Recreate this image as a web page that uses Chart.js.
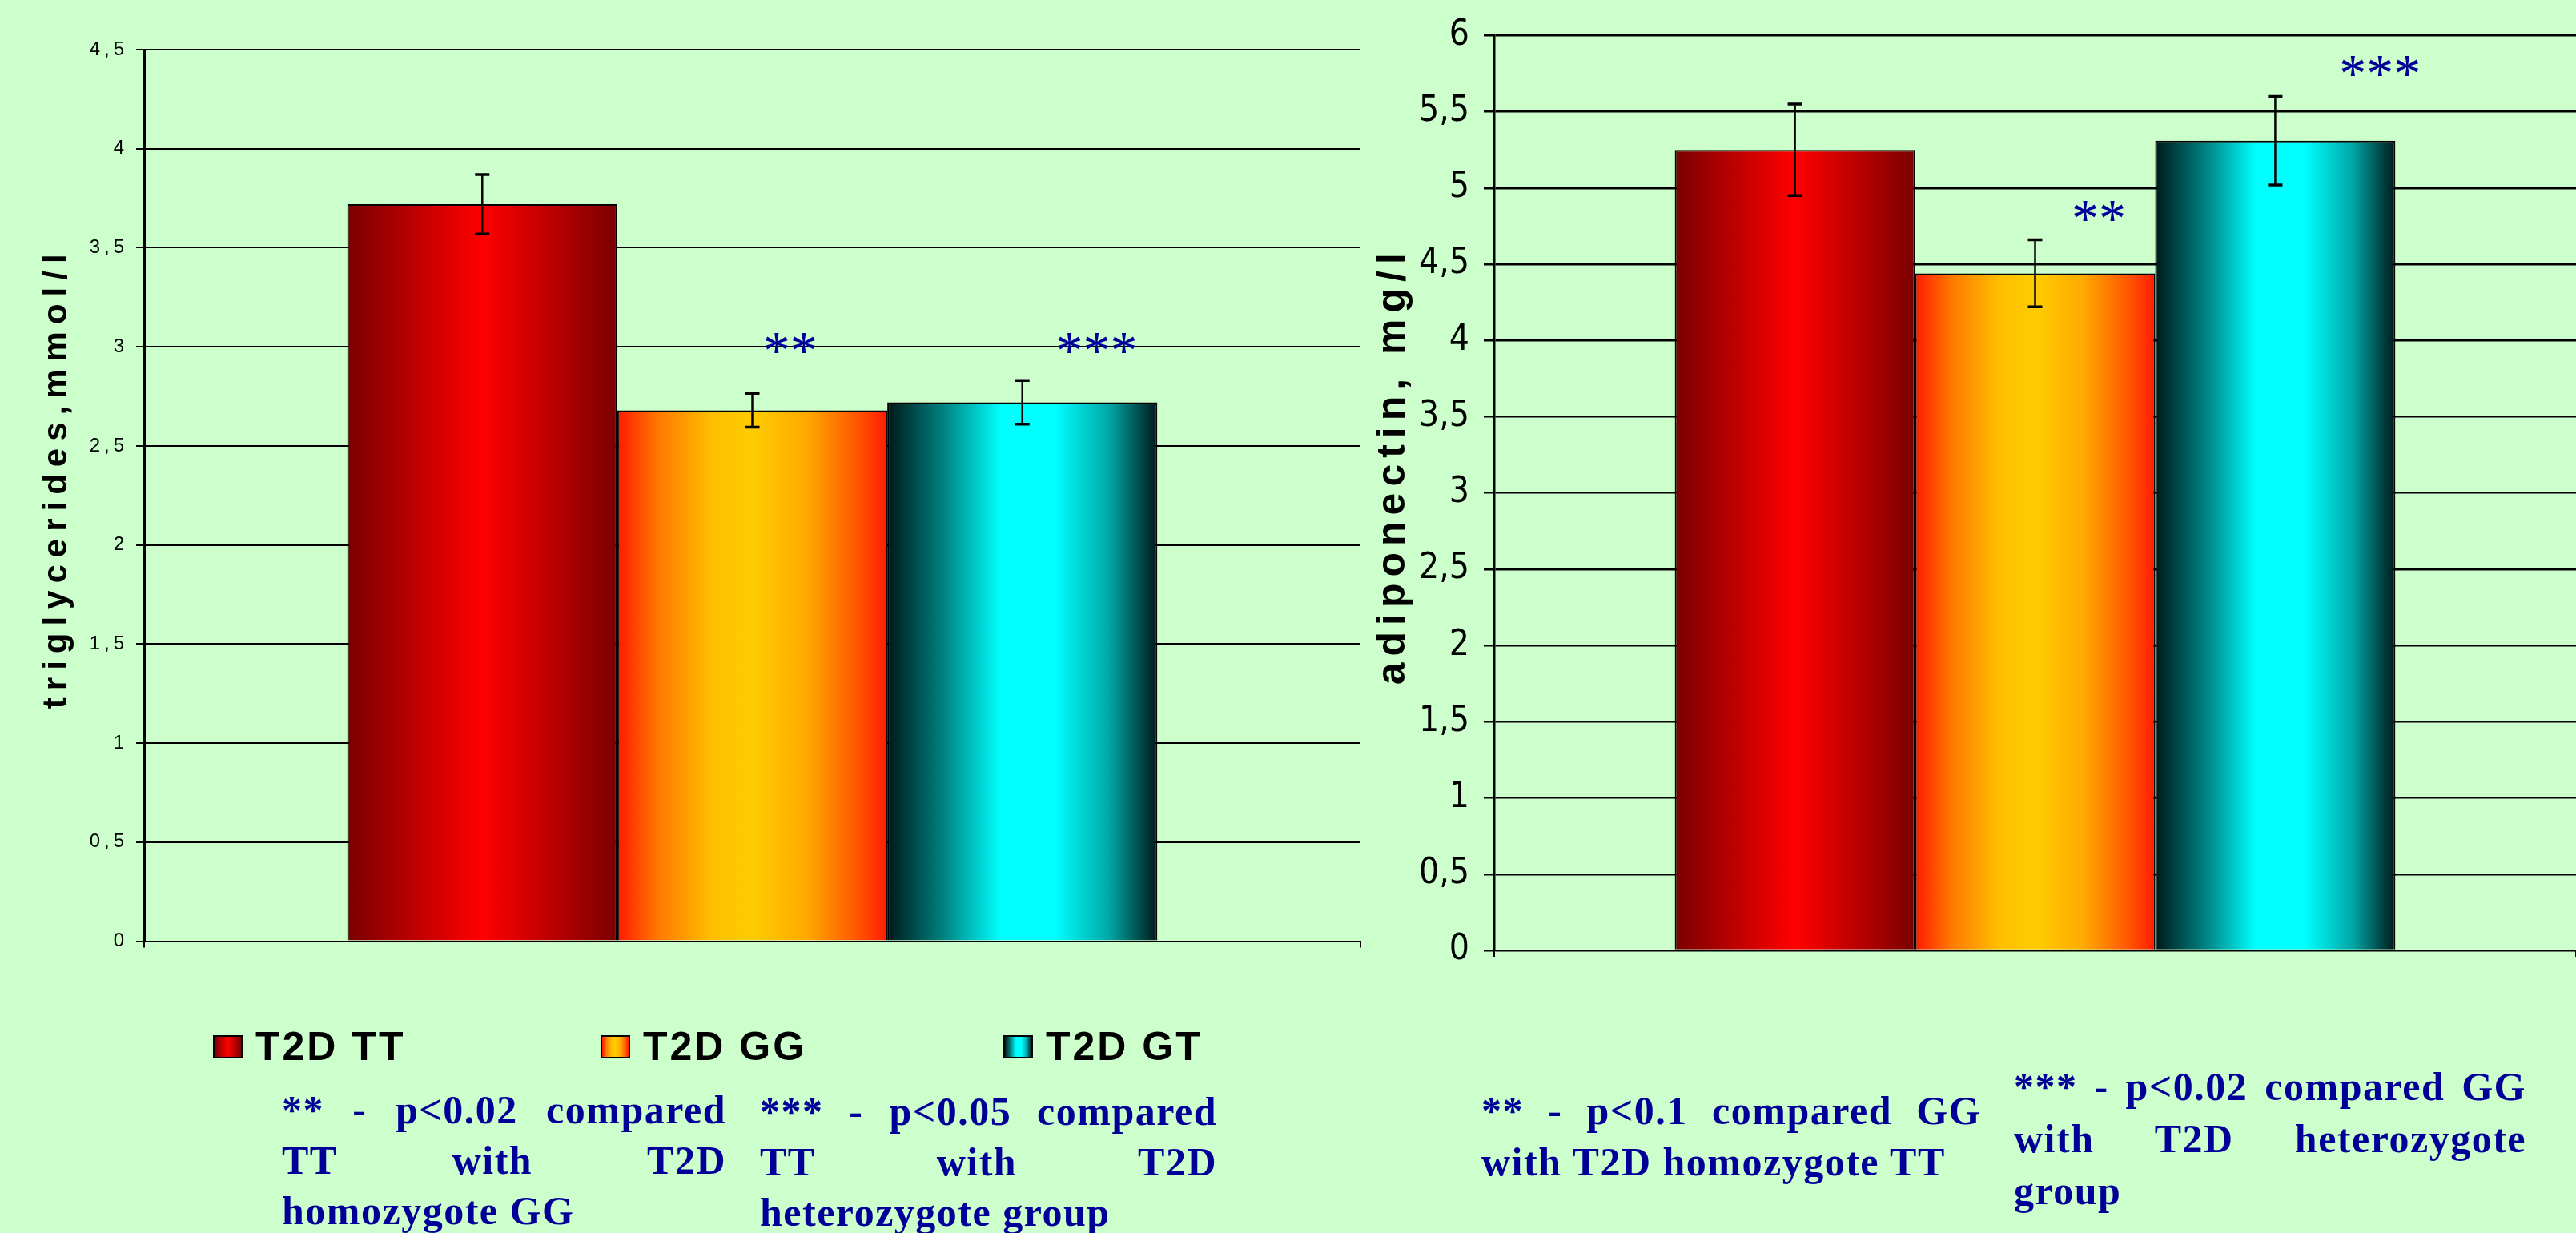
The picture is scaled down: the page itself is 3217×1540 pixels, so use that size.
<!DOCTYPE html>
<html>
<head>
<meta charset="utf-8">
<script src="https://cdn.jsdelivr.net/npm/chart.js@4.4.1/dist/chart.umd.min.js"></script>
<style>
  html, body { margin: 0; padding: 0; background: #ccffcc; width: 3217px; height: 1540px; overflow: hidden; }
  #trigChart { position: absolute; left: 0; top: 0; }
  #adipoChart { position: absolute; left: 1700px; top: 0; }
  .legend-item { position: absolute; top: 1278px; display: flex; align-items: center; line-height: 56px;
    font: bold 50px "Liberation Sans", Arial, sans-serif; letter-spacing: 3px; color: #000; white-space: nowrap; }
  .swatch { width: 33px; height: 25px; border: 2px solid #000; margin-right: 16px; }
  .note { position: absolute; color: #000099; font: bold 50px "Liberation Serif", "Times New Roman", serif;
    letter-spacing: 1.5px; line-height: 63px; }
  .note .j { text-align: justify; text-align-last: justify; }
</style>
</head>
<body>
<canvas id="trigChart" width="1700" height="1200"></canvas>
<canvas id="adipoChart" width="1517" height="1240"></canvas>
<div id="legend"></div>

<div class="note" style="left:352px; top:1355px; width:555px;">
  <div class="j">** - p&lt;0.02 compared</div>
  <div class="j">TT with T2D</div>
  <div>homozygote GG</div>
</div>
<div class="note" style="left:949px; top:1357px; width:571px;">
  <div class="j">*** - p&lt;0.05 compared</div>
  <div class="j">TT with T2D</div>
  <div>heterozygote group</div>
</div>
<div class="note" style="left:1850px; top:1355px; width:624px; line-height:64px;">
  <div class="j">** - p&lt;0.1 compared GG</div>
  <div>with T2D homozygote TT</div>
</div>
<div class="note" style="left:2515px; top:1325px; width:640px; line-height:65px;">
  <div class="j">*** - p&lt;0.02 compared GG</div>
  <div class="j">with T2D heterozygote</div>
  <div>group</div>
</div>

<script>
// groups (one bar each)
const groups = ['T2D TT', 'T2D GG', 'T2D GT'];

// triglycerides, mmol/l
const trigMean = [3.72, 2.68, 2.72];
const trigErr = [0.15, 0.085, 0.11];
const trigTicks = ['0', '0,5', '1', '1,5', '2', '2,5', '3', '3,5', '4', '4,5'];
const trigStars = ['', '**', '***'];
const trigStarLevel = [null, 3.02, 3.02];

// adiponectin, mg/l
const adipoMean = [5.25, 4.44, 5.31];
const adipoErr = [0.30, 0.22, 0.29];
const adipoTicks = ['0', '0,5', '1', '1,5', '2', '2,5', '3', '3,5', '4', '4,5', '5', '5,5', '6'];
const adipoStars = ['', '**', '***'];
const adipoStarLevel = [null, 4.85, 5.80];

// cylinder-like horizontal shading of the bars
const ramps = [
  [[0, '#7a0000'], [0.5, '#ff0000'], [1, '#7a0000']],
  [[0, '#ff1a00'], [0.15, '#ff7800'], [0.35, '#ffbe00'], [0.5, '#ffcc00'], [0.7, '#ffaa00'], [0.9, '#ff5000'], [1, '#ff1a00']],
  [[0, '#001818'], [0.22, '#008888'], [0.42, '#00ffff'], [0.62, '#00ffff'], [0.82, '#00a8a8'], [1, '#001818']]
];

const barFill = {
  id: 'barFill',
  beforeDatasetsDraw(chart) {
    const ctx = chart.ctx;
    chart.data.datasets.forEach((ds, i) => {
      chart.getDatasetMeta(i).data.forEach(bar => {
        const g = ctx.createLinearGradient(bar.x - bar.width / 2, 0, bar.x + bar.width / 2, 0);
        ramps[i].forEach(([o, c]) => g.addColorStop(o, c));
        bar.options.backgroundColor = g;
      });
    });
  }
};

const whiskers = {
  id: 'whiskers',
  afterDatasetsDraw(chart) {
    const { ctx, scales: { y } } = chart;
    ctx.save();
    ctx.strokeStyle = '#000';
    chart.data.datasets.forEach((ds, i) => {
      const bar = chart.getDatasetMeta(i).data[0];
      const hi = y.getPixelForValue(ds.data[0] + ds.err);
      const lo = y.getPixelForValue(ds.data[0] - ds.err);
      ctx.lineWidth = 2.5;
      ctx.beginPath();
      ctx.moveTo(bar.x, hi);
      ctx.lineTo(bar.x, lo);
      ctx.stroke();
      ctx.lineWidth = 3.5;
      ctx.beginPath();
      ctx.moveTo(bar.x - 9, hi); ctx.lineTo(bar.x + 9, hi);
      ctx.moveTo(bar.x - 9, lo); ctx.lineTo(bar.x + 9, lo);
      ctx.stroke();
    });
    ctx.restore();
  }
};

const stars = {
  id: 'stars',
  afterDatasetsDraw(chart, args, opts) {
    const { ctx, scales: { y } } = chart;
    ctx.save();
    ctx.font = '68px "Liberation Serif", "Times New Roman", serif';
    ctx.fillStyle = '#000099';
    ctx.textAlign = 'center';
    chart.data.datasets.forEach((ds, i) => {
      if (!ds.star) return;
      const bar = chart.getDatasetMeta(i).data[0];
      const m = ctx.measureText(ds.star);
      const cy = y.getPixelForValue(ds.starLevel);
      ctx.fillText(ds.star, bar.x + opts.shift[i] * bar.width,
        cy + (m.actualBoundingBoxAscent - m.actualBoundingBoxDescent) / 2);
    });
    ctx.restore();
  }
};

// letter spacing for axis title / tick labels, and a vertical nudge of the title
const spacing = {
  id: 'spacing',
  afterLayout(chart, args, opts) {
    const s = chart.scales.y;
    if (s.$spaced) return;
    s.$spaced = true;
    const title = s.drawTitle, labels = s.drawLabels;
    s.drawTitle = function () {
      this.ctx.save();
      this.ctx.letterSpacing = opts.title + 'px';
      this.ctx.translate(0, opts.shift);
      title.call(this);
      this.ctx.restore();
    };
    s.drawLabels = function (area) {
      this.ctx.save();
      this.ctx.letterSpacing = opts.ticks + 'px';
      labels.call(this, area);
      this.ctx.restore();
    };
  }
};

function buildChart(id, o) {
  return new Chart(document.getElementById(id), {
    type: 'bar',
    data: {
      labels: [''],
      datasets: groups.map((g, i) => ({
        label: g,
        data: [o.mean[i]],
        err: o.err[i],
        star: o.stars[i],
        starLevel: o.starLevel[i],
        borderColor: '#000',
        borderWidth: 2,
        categoryPercentage: 0.666,
        barPercentage: 1
      }))
    },
    options: {
      responsive: false,
      animation: false,
      devicePixelRatio: 1,
      layout: { padding: o.pad },
      plugins: {
        legend: { display: false },
        tooltip: { enabled: false },
        stars: { shift: o.shift },
        spacing: o.spacing
      },
      scales: {
        x: {
          ticks: { display: false },
          grid: { drawOnChartArea: false, color: '#000', lineWidth: 2, tickLength: 8 },
          border: { color: '#000', width: 2 }
        },
        y: {
          min: 0,
          max: o.max,
          afterFit: s => { s.width = o.axisWidth; },
          ticks: { stepSize: 0.5, color: '#000', padding: o.tickPad, font: o.tickFont,
            callback: (v, i) => o.ticks[i] },
          grid: { color: '#000', lineWidth: o.line, tickLength: o.tickLen },
          border: { color: '#000', width: o.axisLine },
          title: { display: true, text: o.title, color: '#000', font: o.titleFont,
            padding: { top: o.titlePad, bottom: 0 } }
        }
      }
    },
    plugins: [barFill, whiskers, stars, spacing]
  });
}

buildChart('trigChart', {
  mean: trigMean, err: trigErr, stars: trigStars, starLevel: trigStarLevel, ticks: trigTicks,
  max: 4.5,
  title: 'triglycerides,mmol/l',
  titleFont: { family: '"Liberation Sans", Arial, sans-serif', size: 42, weight: 'bold' },
  titlePad: 46,
  tickFont: { family: '"Liberation Sans", Arial, sans-serif', size: 24 },
  tickPad: 10, tickLen: 10, line: 2, axisLine: 3, axisWidth: 180,
  pad: { top: 62, right: 1, bottom: 12, left: 0 },
  shift: [0, 0.14, 0.275],
  spacing: { title: 9, ticks: 5, shift: -22 }
});

buildChart('adipoChart', {
  mean: adipoMean, err: adipoErr, stars: adipoStars, starLevel: adipoStarLevel, ticks: adipoTicks,
  max: 6,
  title: 'adiponectin, mg/l',
  titleFont: { family: '"Liberation Sans", Arial, sans-serif', size: 50, weight: 'bold' },
  titlePad: 10,
  tickFont: { family: '"Liberation Sans Narrow", "DejaVu Sans Condensed", sans-serif', size: 44 },
  tickPad: 18, tickLen: 13, line: 2.5, axisLine: 2.5, axisWidth: 166,
  pad: { top: 43, right: 0, bottom: 45, left: 0 },
  shift: [0, 0.265, 0.436],
  spacing: { title: 8, ticks: 0, shift: -34 }
});

// legend (HTML, under the left chart)
const legendLeft = [266, 750, 1253];
const legend = document.getElementById('legend');
groups.forEach((g, i) => {
  const item = document.createElement('div');
  item.className = 'legend-item';
  item.style.left = legendLeft[i] + 'px';
  const sw = document.createElement('span');
  sw.className = 'swatch';
  sw.style.background = 'linear-gradient(90deg,' + ramps[i].map(([o, c]) => c + ' ' + (o * 100) + '%').join(',') + ')';
  item.appendChild(sw);
  item.appendChild(document.createTextNode(g));
  legend.appendChild(item);
});
</script>
</body>
</html>
